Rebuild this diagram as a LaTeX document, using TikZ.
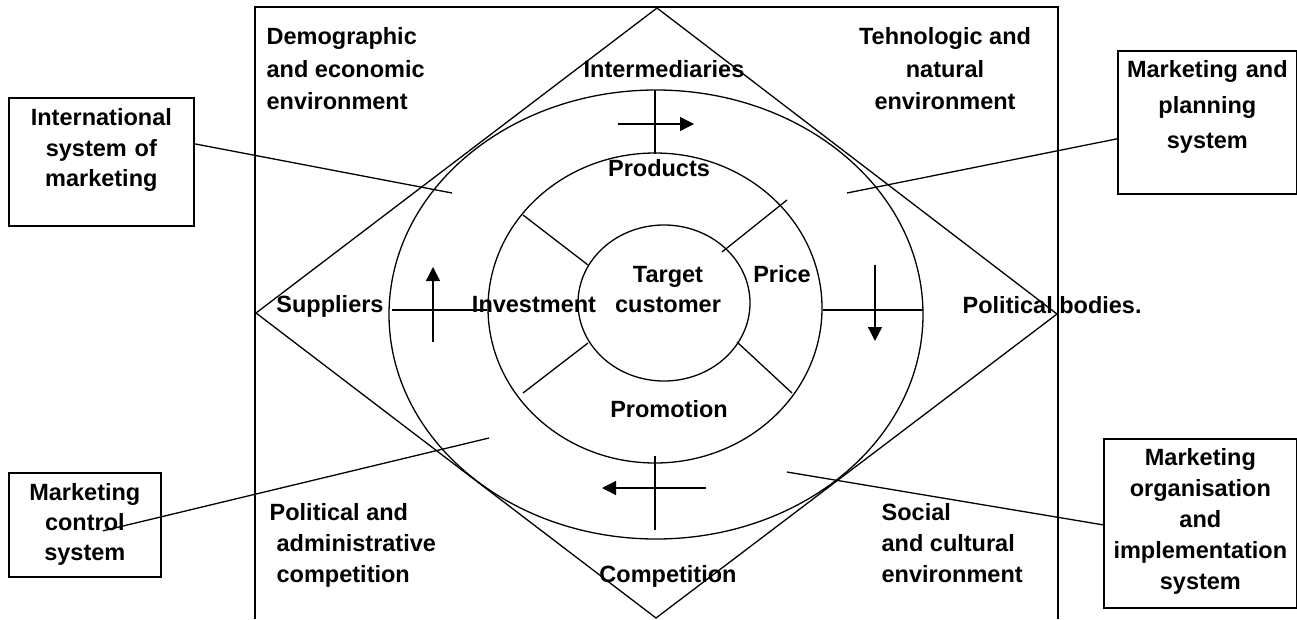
\documentclass[tikz,border=0pt]{standalone}
\usepackage{fontspec}
\setsansfont{Liberation Sans}
\usetikzlibrary{arrows.meta}

\begin{document}
\begin{tikzpicture}[x=1pt, y=-1pt, line width=1.3pt,
	font=\sffamily\bfseries\fontsize{23.5}{33}\selectfont,
	lbl/.style={anchor=base, align=center, inner sep=0pt},
	lbll/.style={anchor=base west, align=left, inner sep=0pt},
	sysbox/.style={draw, line width=1.7pt, align=center, inner sep=0pt, anchor=north west},
	arr/.style={-{Triangle[length=14pt,width=14pt]}}]
	\useasboundingbox (0,0) rectangle (1297,619);
	%frame
	\draw (255,619) -- (255,7) -- (1058,7) -- (1058,619);
	%diamond
	\draw (657,8) -- (1057,314) -- (656,618) -- (256,313) -- cycle;
	%rings
	\draw (656,314.5) ellipse [x radius=267, y radius=224.5];
	\draw (655,308) ellipse [x radius=167, y radius=155];
	\draw (664,303) ellipse [x radius=86, y radius=78];
	%spokes
	\draw (523,215) -- (588,265);
	\draw (722,252) -- (787,200);
	\draw (588,343) -- (523,393);
	\draw (737,342) -- (792,393);
	\draw (392,310) -- (487,310);
	\draw (823,310) -- (923,310);
	\draw (655,90) -- (655,154);
	\draw (655,456) -- (655,530);
	%flows
	\draw[arr] (618,124) -- (694,124);
	\draw[arr] (875,265) -- (875,341);
	\draw[arr] (706,488) -- (602,488);
	\draw[arr] (433,342) -- (433,267);
	%environment (anchored on last line)
	\node[lbll] (demo) at (266,109) {Demographic\\and economic\\[-1pt]environment};
	\node[lbl] (tech) at (945,109) {Tehnologic and\\natural\\[-1pt]environment};
	\node[lbll] (polad) at (269,582) {Political and\\[-2pt]\hspace*{7pt}administrative\\[-2pt]\hspace*{7pt}competition};
	\node[lbll] (soc) at (881,582) {Social\\[-2pt]and cultural\\[-2pt]environment};
	\node[lbl] (inter) at (664,77) {Intermediaries};
	\node[lbll] (polbod) at (962,313) {Political bodies.};
	\node[lbl] (supp) at (330,312) {Suppliers};
	\node[lbl] (comp) at (668,582) {Competition};
	%mix
	\node[lbl] (prod) at (659,176) {Products};
	\node[lbl] (price) at (782,282) {Price};
	\node[lbl] (invest) at (534,312) {Investment};
	\node[lbl] (promo) at (669,417) {Promotion};
	\node[lbl] (target) at (668,312) {Target\\[-3pt]customer};
	%systems
	\node[sysbox, text width=185pt, text height=28pt, text depth=100pt] (intl) at (8,97)
		{International\\[-2.5pt]system of\\[-2.5pt]marketing};
	\node[sysbox, text width=179pt, text height=27pt, text depth=116pt] (plan) at (1117,50)
		{Marketing and\\[2.5pt]planning\\[2.5pt]system};
	\node[sysbox, text width=152pt, text height=28pt, text depth=76pt] (ctrl) at (8,472)
		{Marketing\\[-3pt]control\\[-3pt]system};
	\node[sysbox, text width=193pt, text height=27pt, text depth=142pt] (org) at (1103,438)
		{Marketing\\[-2pt]organisation\\[-2pt]and\\[-2pt]implementation\\[-2pt]system};
	%links
	\coordinate (intlend) at (452,193);
	\coordinate (planend) at (847,193);
	\coordinate (ctrlend) at (489,438);
	\coordinate (orgend) at (787,472);
	\draw ([yshift=18pt]intl.east) -- (intlend);
	\draw ([yshift=-16.5pt]plan.west) -- (planend);
	\draw ([xshift=18pt,yshift=-6pt]ctrl.center) -- (ctrlend);
	\draw ([yshift=-1.5pt]org.west) -- (orgend);
\end{tikzpicture}
\end{document}
